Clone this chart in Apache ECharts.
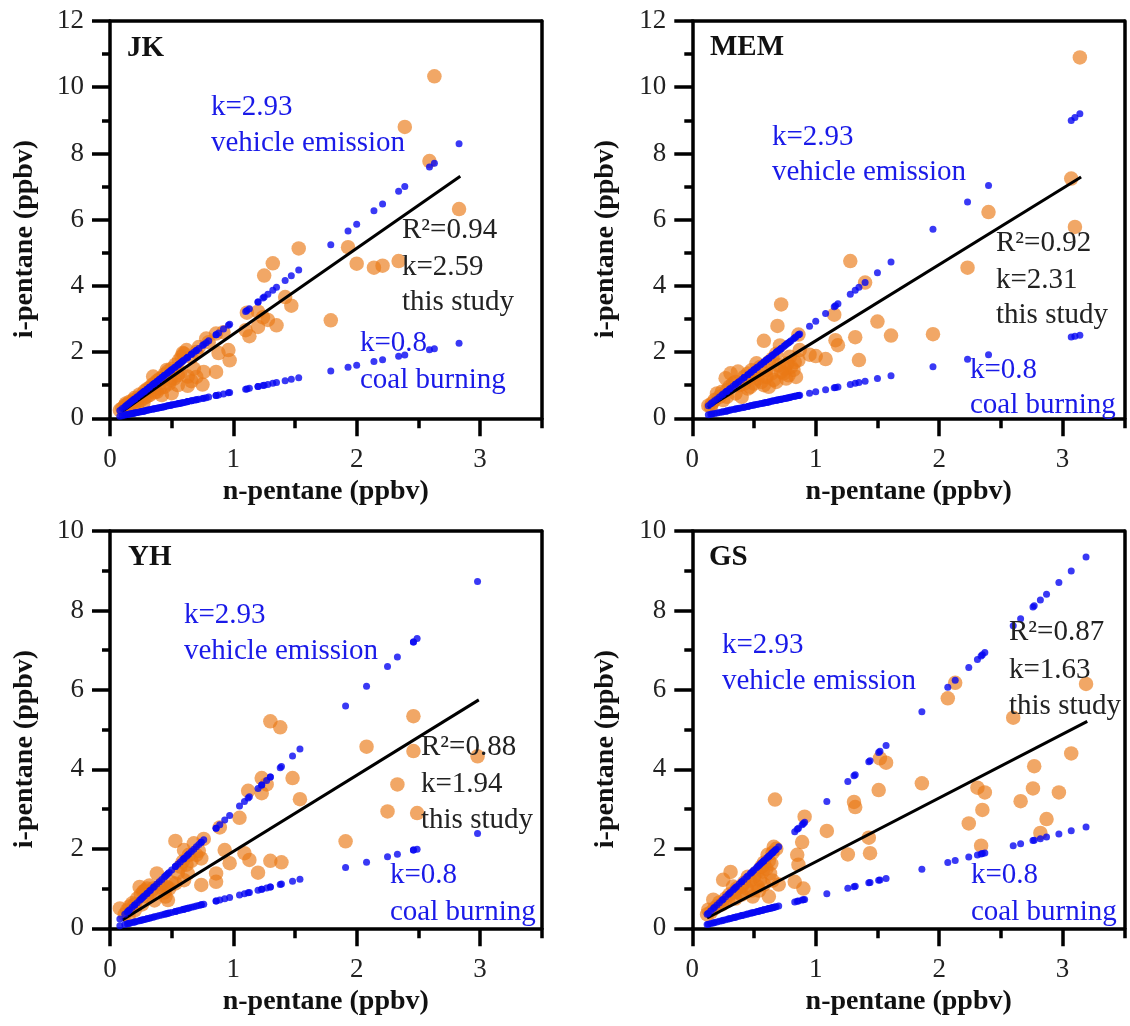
<!DOCTYPE html>
<html><head><meta charset="utf-8">
<script src="https://cdn.jsdelivr.net/npm/echarts@6/dist/echarts.min.js"></script>
<style>html,body{margin:0;padding:0;background:#fff}#c{width:1130px;height:1026px}</style>
</head><body><div id="c"></div>
<script>
// ---------- data ----------
const xTicks = [0, 1, 2, 3];
const xMinorTicks = [0.5, 1.5, 2.5, 3.5];
const yMaxTop = 12, yMaxBottom = 10;
const K_VEHICLE = 2.93;   // vehicle emission ratio
const K_COAL = 0.8;       // coal burning ratio

// JK
const jkN = [2.63,2.39,2.59,2.83,1.53,1.93,2.00,2.14,2.21,2.34,1.32,1.25,1.79,1.42,1.47,1.11,1.20,1.28,1.35,1.10,1.13,1.20,1.24,
  0.96,0.97,0.88,0.86,0.76,0.75,0.78,0.86,0.62,0.59,0.57,0.63,0.55,0.63,0.49,0.46,0.50,0.35,0.38,0.30,0.19,0.13,0.08,
  0.10,0.12,0.14,0.16,0.18,0.20,0.22,0.24,0.26,0.28,0.30,0.32,0.34,0.36,0.38,0.40,0.42,0.44,0.47,0.50,0.53,0.56,0.58,0.60,0.66,0.70,0.72,0.80,0.92,
  0.15,0.20,0.25,0.28,0.32,0.36,0.40,0.44,0.48,0.52,0.55,0.66,0.70,0.68,0.42,0.27,0.22,0.17];
const jkI = [10.33,8.80,7.77,6.32,5.13,5.17,4.67,4.55,4.61,4.75,4.68,4.31,2.96,3.66,3.40,3.19,3.22,2.97,2.81,2.66,2.48,2.76,3.05,
  2.06,1.75,1.97,1.40,1.40,1.02,2.41,2.56,2.06,1.97,1.38,1.26,1.00,0.98,1.16,1.46,0.76,1.26,0.80,0.66,0.55,0.45,0.25,
  0.30,0.38,0.42,0.50,0.48,0.62,0.58,0.72,0.70,0.82,0.88,0.92,1.00,1.05,1.12,1.18,1.22,1.32,1.42,1.50,1.62,1.75,1.86,1.95,1.85,2.00,2.15,2.30,2.60,
  0.32,0.45,0.55,0.62,0.70,0.78,0.90,0.95,1.05,1.20,1.30,1.12,1.25,1.50,0.70,0.45,0.40,0.36];
const jkFitN = [0.095, 2.84];
const jkFitI = [0.20, 7.31];

// MEM
const memN = [3.14,3.07,3.10,2.40,2.23,1.95,1.61,1.50,1.32,1.35,1.28,1.40,1.15,1.16,1.18,1.08,1.00,0.95,0.72,0.69,0.58,0.71,0.86,0.86,0.82,0.74,0.66,0.58,0.47,0.40,0.31,0.37,0.27,0.52,0.60,0.77,0.79,0.87,0.16,0.20,0.25,
  0.13,0.15,0.18,0.22,0.24,0.28,0.30,0.33,0.35,0.38,0.42,0.45,0.48,0.50,0.53,0.55,0.62,0.65,0.68,0.70,0.75,0.78,0.80,0.83,0.84,0.64,0.56,0.45,0.35,0.28,0.42,0.50,0.60,0.72,0.76,0.68,0.62];
const memI = [10.90,7.24,5.78,6.23,4.55,2.54,2.50,2.92,2.45,1.76,4.75,4.10,3.13,2.36,2.21,1.79,1.88,1.92,3.44,2.79,2.34,2.20,2.53,1.76,1.46,1.36,1.16,1.00,0.95,0.65,1.36,1.41,1.21,1.66,1.46,1.66,1.86,2.06,0.45,0.75,0.55,
  0.38,0.35,0.55,0.65,0.80,0.85,0.95,1.05,1.10,1.00,1.25,1.35,1.45,1.30,1.20,1.55,1.70,1.80,1.95,1.60,1.50,1.30,1.55,1.70,1.25,1.35,1.10,0.90,0.75,0.65,1.05,1.05,1.25,1.40,1.20,1.10,0.95];
const memFitN = [0.126, 3.15];
const memFitI = [0.33, 7.29];

// YH
const yhN = [2.46,2.08,2.46,2.98,2.33,2.25,2.49,1.91,1.30,1.38,1.48,1.54,1.23,1.27,1.23,1.12,1.05,0.89,0.93,0.97,1.09,1.13,1.30,1.39,1.20,0.86,0.86,0.74,0.74,0.76,0.68,0.53,0.60,0.64,0.59,0.63,0.60,0.53,0.47,0.38,0.40,0.27,0.24,0.30,0.08,0.18,0.32,0.46,
  0.12,0.14,0.16,0.20,0.22,0.25,0.28,0.30,0.33,0.35,0.42,0.44,0.48,0.50,0.55,0.57,0.62,0.66,0.70,0.72,0.45,0.36,0.26,0.20,0.15];
const yhI = [5.34,4.57,4.46,4.33,3.62,2.94,2.90,2.19,5.21,5.06,3.78,3.25,3.78,3.62,3.40,3.46,2.78,2.54,1.97,1.64,1.89,1.72,1.70,1.66,1.40,1.38,1.17,1.09,1.76,2.25,2.14,2.20,1.97,1.85,1.68,1.38,1.21,1.13,0.71,1.38,1.04,0.92,1.04,0.80,0.50,0.63,1.08,1.04,
  0.35,0.45,0.55,0.60,0.75,0.85,0.95,1.00,0.90,1.00,1.10,0.90,1.00,1.15,1.40,1.55,1.60,1.70,1.85,1.95,0.80,0.70,0.60,0.45,0.30];
const yhFitN = [0.10, 2.99];
const yhFitI = [0.21, 5.75];

// GS
const gsN = [3.19,2.60,2.07,2.13,3.07,2.77,2.76,2.97,2.66,2.87,2.82,2.31,2.37,2.35,2.24,2.34,1.86,1.52,1.57,1.51,1.31,1.32,1.43,1.44,1.26,1.09,0.91,0.89,0.85,0.86,0.83,0.90,0.67,0.66,0.64,0.63,0.62,0.55,0.53,0.49,0.45,0.31,0.25,0.33,0.17,0.13,0.38,0.57,0.61,
  0.12,0.15,0.18,0.20,0.22,0.24,0.27,0.29,0.30,0.34,0.36,0.40,0.42,0.44,0.47,0.50,0.52,0.56,0.58,0.60,0.62,0.65,0.68,0.48,0.40,0.35,0.58,0.65,0.70,0.54];
const gsI = [6.15,5.30,5.79,6.18,4.40,4.08,3.52,3.42,3.20,2.75,2.40,3.54,3.42,2.98,2.64,2.08,3.65,4.28,4.17,3.48,3.18,3.05,2.28,1.89,1.86,2.45,2.81,2.17,1.85,1.60,1.17,1.00,3.24,2.05,1.63,1.38,0.80,1.22,1.05,0.80,1.30,1.42,1.22,1.05,0.72,0.47,0.89,1.43,1.85,
  0.35,0.40,0.50,0.55,0.65,0.60,0.75,0.70,0.85,0.90,1.00,1.05,1.15,1.00,1.20,1.30,1.40,1.55,1.65,1.50,1.70,1.90,2.00,0.95,0.85,0.75,1.10,1.20,1.10,0.95];
const gsFitN = [0.12, 3.20];
const gsFitI = [0.26, 5.21];

const panelNames = ['JK', 'MEM', 'YH', 'GS'];
const r2Text = ['R²=0.94', 'R²=0.92', 'R²=0.88', 'R²=0.87'];
const kText = ['k=2.59', 'k=2.31', 'k=1.94', 'k=1.63'];

// ---------- layout / style ----------
const FONT = '"Liberation Serif", "Times New Roman", serif';
const ORANGE = 'rgba(234,120,22,0.82)';
const BLUE = '#0808f2';
const BLUE_TXT = '#1a1ae8';
const LW = 3.5;
const grids = [
  {left: 110, top: 21, width: 431.7, height: 397.3},
  {left: 692.3, top: 21, width: 432, height: 397.3},
  {left: 110, top: 531, width: 431.7, height: 397.3},
  {left: 692.3, top: 531, width: 432, height: 397.3}
];
const yMax = [yMaxTop, yMaxTop, yMaxBottom, yMaxBottom];
const panelsData = [
  [jkN, jkI, jkFitN, jkFitI],
  [memN, memI, memFitN, memFitI],
  [yhN, yhI, yhFitN, yhFitI],
  [gsN, gsI, gsFitN, gsFitI]
];

const xAxes = [], yAxes = [], series = [];
grids.forEach((g, p) => {
  // major bottom axis (3p)
  xAxes.push({
    gridIndex: p, type: 'value', min: 0, max: 3.5, position: 'bottom',
    axisLine: {show: true, onZero: false, lineStyle: {color: '#000', width: LW}},
    axisTick: {show: true, customValues: xTicks, length: 18, lineStyle: {color: '#000', width: LW}},
    axisLabel: {show: true, customValues: xTicks, margin: 28, color: '#222', fontSize: 27, fontFamily: FONT},
    splitLine: {show: false}
  });
  // minor bottom ticks (3p+1)
  xAxes.push({
    gridIndex: p, type: 'value', min: 0, max: 3.5, position: 'bottom',
    axisLine: {show: false, onZero: false},
    axisTick: {show: true, customValues: xMinorTicks, length: 10, lineStyle: {color: '#000', width: LW}},
    axisLabel: {show: false},
    splitLine: {show: false}
  });
  // top frame (3p+2)
  xAxes.push({
    gridIndex: p, type: 'value', min: 0, max: 3.5, position: 'top',
    axisLine: {show: true, onZero: false, lineStyle: {color: '#000', width: LW}},
    axisTick: {show: false}, axisLabel: {show: false}, splitLine: {show: false}
  });
  // left axis (2p)
  yAxes.push({
    gridIndex: p, type: 'value', min: 0, max: yMax[p], interval: 2, position: 'left',
    axisLine: {show: true, onZero: false, lineStyle: {color: '#000', width: LW}},
    axisTick: {show: true, length: 18, lineStyle: {color: '#000', width: LW}},
    minorTick: {show: true, splitNumber: 2, length: 8, lineStyle: {color: '#000', width: LW}},
    axisLabel: {margin: 26, color: '#222', fontSize: 27, fontFamily: FONT},
    splitLine: {show: false}, minorSplitLine: {show: false}
  });
  // right frame (2p+1)
  yAxes.push({
    gridIndex: p, type: 'value', min: 0, max: yMax[p], position: 'right',
    axisLine: {show: true, onZero: false, lineStyle: {color: '#000', width: LW}},
    axisTick: {show: false}, axisLabel: {show: false}, splitLine: {show: false}
  });
  const [nArr, iArr, fN, fI] = panelsData[p];
  const xi = p * 3, yi = p * 2;
  series.push({
    type: 'scatter', xAxisIndex: xi, yAxisIndex: yi, symbolSize: 14.5,
    itemStyle: {color: ORANGE}, data: nArr.map((x, j) => [x, iArr[j]]), z: 2
  });
  series.push({
    type: 'line', xAxisIndex: xi, yAxisIndex: yi, symbol: 'none',
    lineStyle: {color: '#000', width: 3}, data: fN.map((x, j) => [x, fI[j]]), z: 3
  });
  series.push({
    type: 'scatter', xAxisIndex: xi, yAxisIndex: yi, symbolSize: 7,
    itemStyle: {color: BLUE}, data: nArr.map(x => [x, K_VEHICLE * x]), z: 4
  });
  series.push({
    type: 'scatter', xAxisIndex: xi, yAxisIndex: yi, symbolSize: 7,
    itemStyle: {color: BLUE}, data: nArr.map(x => [x, K_COAL * x]), z: 4
  });
});

function txt(x, y, text, opts) {
  opts = opts || {};
  return {
    type: 'text', x: x, y: y, rotation: opts.rotation || 0, z: 100,
    style: {
      text: text, fill: opts.fill || '#222',
      font: (opts.bold ? 'bold ' : '') + (opts.size || 29) + 'px ' + FONT,
      align: opts.align || 'left', verticalAlign: 'middle'
    }
  };
}

const graphics = [];
const labelPos = [[127, 49], [710, 48], [128, 558], [709, 558]];
const vehPos = [[211, 107, 143], [772, 137, 172], [184, 615, 651], [722, 645, 681]];
const regPos = [[402, 230, 267, 302], [996, 243, 280, 315], [421, 747, 784, 820], [1009, 632, 670, 706]];
const coalPos = [[360, 343, 380], [970, 370, 405], [390, 875, 912], [971, 875, 912]];
const xTitlePos = [[325.8, 492], [908.7, 492], [325.8, 1002], [908.7, 1002]];
const yTitlePos = [[25, 239], [606, 239], [25, 749], [606, 749]];

for (let p = 0; p < 4; p++) {
  graphics.push(txt(labelPos[p][0], labelPos[p][1], panelNames[p], {bold: true, size: 29, fill: '#111'}));
  graphics.push(txt(vehPos[p][0], vehPos[p][1], 'k=2.93', {fill: BLUE_TXT}));
  graphics.push(txt(vehPos[p][0], vehPos[p][2], 'vehicle emission', {fill: BLUE_TXT}));
  graphics.push(txt(regPos[p][0], regPos[p][1], r2Text[p]));
  graphics.push(txt(regPos[p][0], regPos[p][2], kText[p]));
  graphics.push(txt(regPos[p][0], regPos[p][3], 'this study'));
  graphics.push(txt(coalPos[p][0], coalPos[p][1], 'k=0.8', {fill: BLUE_TXT}));
  graphics.push(txt(coalPos[p][0], coalPos[p][2], 'coal burning', {fill: BLUE_TXT}));
  graphics.push(txt(xTitlePos[p][0], xTitlePos[p][1], 'n-pentane (ppbv)', {bold: true, size: 28, align: 'center', fill: '#111'}));
  graphics.push(txt(yTitlePos[p][0], yTitlePos[p][1], 'i-pentane (ppbv)', {bold: true, size: 28, align: 'center', fill: '#111', rotation: Math.PI / 2}));
}

const chart = echarts.init(document.getElementById('c'), null, {renderer: 'canvas'});
chart.setOption({
  animation: false,
  backgroundColor: '#fff',
  grid: grids,
  xAxis: xAxes,
  yAxis: yAxes,
  series: series,
  graphic: graphics
});
</script>
</body></html>
